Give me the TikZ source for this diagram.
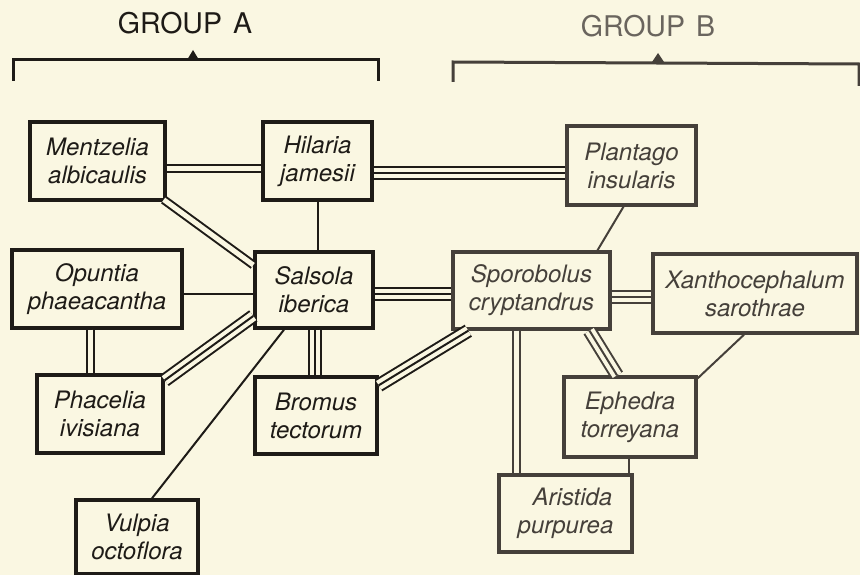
\documentclass[tikz,border=0pt]{standalone}
\usepackage{fontspec}
\setmainfont{TeX Gyre Heros}
\usetikzlibrary{calc}
\definecolor{bg}{HTML}{FAF7E2}
\definecolor{inkA}{HTML}{1E1B17}
\definecolor{inkB}{HTML}{45403A}
\definecolor{inkG}{HTML}{6A655E}
\begin{document}
\begin{tikzpicture}[x=1pt,y=-1pt,
  box/.style={draw, line width=3.4pt, fill=bg, inner sep=0pt, align=center,
    font=\fontsize{24}{28}\selectfont\itshape},
  boxA/.style={box, draw=inkA, text=inkA},
  boxB/.style={box, draw=inkB, text=inkB},
  sgl/.style={line width=2pt},
  dbl/.style={line width=2pt, double=bg, double distance=5pt},
  tri/.style={line width=2pt, double=bg, double distance=10pt},
  grp/.style={font=\fontsize{28.5}{32}\selectfont, anchor=base},
  brk/.style={line width=3pt}
]
\fill[bg] (0,0) rectangle (860,575);
\useasboundingbox (0,0) rectangle (860,575);

% group labels and brackets
\node[grp, text=inkA] (ga) at (185,34) {GROUP\hspace{11pt}A};
\node[grp, text=inkG] (gb) at (648,37) {GROUP\hspace{11pt}B};
\draw[brk, inkA] (13,81) -- (13,60) -- (378,60) -- (378,81);
\fill[inkA] (187,60) -- (193,50) -- (199,60) -- cycle;
\draw[brk, inkB] (453,82) -- (453,62) -- (859,64) -- (859,86);
\fill[inkB] (652,62) -- (658,53) -- (664,62) -- cycle;

% nodes
\node[boxA, minimum width=135pt, minimum height=78pt] (ment) at (97.5,161) {Mentzelia\\albicaulis};
\node[boxA, minimum width=109pt, minimum height=78pt] (hil) at (317.5,161) {Hilaria\\jamesii};
\node[boxB, minimum width=129pt, minimum height=79pt] (plan) at (631.5,165.5) {Plantago\\insularis};
\node[boxA, minimum width=118pt, minimum height=76pt] (sals) at (314,290) {Salsola\\iberica};
\node[boxA, minimum width=170pt, minimum height=78pt] (opun) at (97,289) {Opuntia\\phaeacantha};
\node[boxA, minimum width=126pt, minimum height=78pt] (phac) at (100,414) {Phacelia\\ivisiana};
\node[boxA, minimum width=122pt, minimum height=77pt] (brom) at (316,415.5) {Bromus\\tectorum};
\node[boxA, minimum width=122pt, minimum height=74pt] (vulp) at (137,537) {Vulpia\\octoflora};
\node[boxB, minimum width=157pt, minimum height=77pt] (spor) at (531.5,290.5) {Sporobolus\\cryptandrus};
\node[boxB, minimum width=204pt, minimum height=79pt] (xant) at (755,293.5) {Xanthocephalum\\sarothrae};
\node[boxB, minimum width=132pt, minimum height=80pt] (ephe) at (630,417) {Ephedra\\torreyana};
\node[boxB, minimum width=133pt, minimum height=77pt] (aris) at (565.5,513.5) {\hspace*{14pt}Aristida\\purpurea};

% connectors, group A side
\draw[dbl, inkA] ($(ment.east)+(0,8)$) -- ($(hil.west)+(0,8)$);
\draw[tri, inkA] ($(hil.east)+(0,12)$) -- ($(plan.west)+(0,7.5)$);
\draw[sgl, inkA] ($(hil.east)+(0,12)$) -- ($(plan.west)+(0,7.5)$);
\draw[dbl, inkA] ($(ment.south east)+(-3,-2)$) -- ($(sals.west)+(0,-25)$);
\draw[sgl, inkA] (hil.south) -- (hil.south |- sals.north);
\draw[sgl, inkA] ($(opun.east)+(0,5)$) -- ($(sals.west)+(0,4)$);
\draw[dbl, inkA] ($(opun.south)+(-7,0)$) -- ($(phac.north)+(-10,0)$);
\draw[tri, inkA] ($(sals.west)+(0,26)$) -- ($(phac.north east)+(0,7)$);
\draw[sgl, inkA] ($(sals.west)+(0,26)$) -- ($(phac.north east)+(0,7)$);
\draw[tri, inkA] ($(sals.south)+(1,0)$) -- ($(brom.north)+(-1,0)$);
\draw[sgl, inkA] ($(sals.south)+(1,0)$) -- ($(brom.north)+(-1,0)$);
\draw[sgl, inkA] ($(sals.south)+(-30,0)$) -- ($(vulp.north)+(15,0)$);
\draw[tri, inkA] ($(sals.east)+(0,4)$) -- ($(spor.west)+(0,3.5)$);
\draw[sgl, inkA] ($(sals.east)+(0,4)$) -- ($(spor.west)+(0,3.5)$);
\draw[tri, inkA] ($(brom.north east)+(0,10)$) -- ($(spor.south west)+(17,0)$);
\draw[sgl, inkA] ($(brom.north east)+(0,10)$) -- ($(spor.south west)+(17,0)$);

% connectors, group B side
\draw[sgl, inkB] ($(plan.south)+(-8,0)$) -- ($(spor.north)+(66,0)$);
\draw[tri, inkB] ($(spor.east)+(0,6)$) -- ($(xant.west)+(0,3)$);
\draw[sgl, inkB] ($(spor.east)+(0,6)$) -- ($(xant.west)+(0,3)$);
\draw[tri, inkB] ($(spor.south)+(58,0)$) -- ($(ephe.north)+(-13,0)$);
\draw[sgl, inkB] ($(spor.south)+(58,0)$) -- ($(ephe.north)+(-13,0)$);
\draw[sgl, inkB] ($(xant.south)+(-11,0)$) -- ($(ephe.north east)+(0,3)$);
\draw[dbl, inkB] ($(spor.south)+(-15.5,0)$) -- ($(aris.north)+(-49.5,0)$);
\draw[sgl, inkB] ($(ephe.south)+(-1,0)$) -- ($(aris.north)+(63.5,0)$);
\end{tikzpicture}
\end{document}
